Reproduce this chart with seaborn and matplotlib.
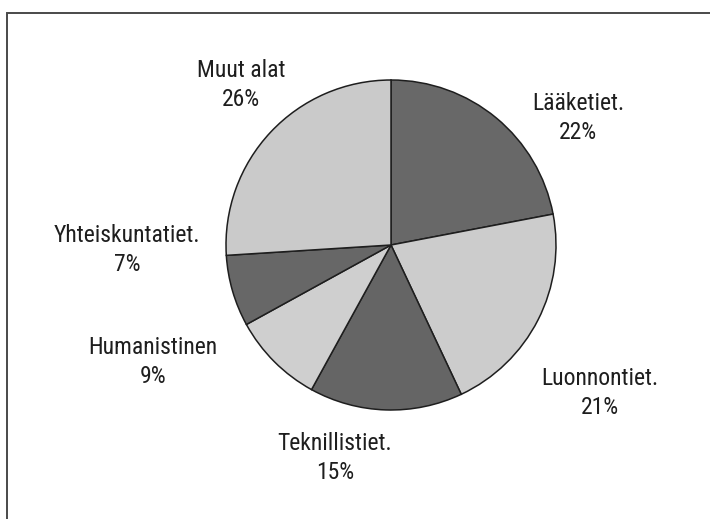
import numpy as np
import pandas as pd
import matplotlib
matplotlib.use("Agg")
import matplotlib.pyplot as plt
from matplotlib import font_manager
from matplotlib.patches import Rectangle
import seaborn as sns

# data (clockwise from 12 o'clock)
fields = ["Lääketiet.", "Luonnontiet.", "Teknillistiet.", "Humanistinen", "Yhteiskuntatiet.", "Muut alat"]
shares = [22, 21, 15, 9, 7, 26]
shades = ["#686868", "#cccccc", "#656565", "#cfcfcf", "#676767", "#cacaca"]

df = pd.DataFrame({"field": fields, "share": shares})

sns.set_style("white")
names = {f.name for f in font_manager.fontManager.ttflist}
narrow = [n for n in ["DejaVu Sans Condensed", "Liberation Sans Narrow", "Roboto Condensed"] if n in names]
if narrow:
    plt.rcParams["font.family"] = [narrow[0], "DejaVu Sans"]
    fsize, lspace = 17, 1.35
else:
    plt.rcParams["font.family"] = ["DejaVu Sans"]
    fsize, lspace = 15.5, 1.47

fig = plt.figure(figsize=(7.1, 5.19), dpi=100)
ax = fig.add_axes([0, 0, 1, 1])

cx, cy, rad = 391, 274, 165
wedges, _ = ax.pie(df["share"], colors=shades, startangle=90, counterclock=False,
                   center=(cx, cy), radius=rad,
                   wedgeprops=dict(edgecolor="#1e1e1e", linewidth=1.1))
ax.set_xlim(0, 710)
ax.set_ylim(0, 519)
ax.set_aspect("equal")
ax.axis("off")

# label placement (pixel-like coordinates, text only)
label_pos = {
    "Lääketiet.": (578, 401),
    "Luonnontiet.": (600, 126),
    "Teknillistiet.": (335, 61),
    "Humanistinen": (153, 157),
    "Yhteiskuntatiet.": (127, 269),
    "Muut alat": (241, 434),
}
for name, val in zip(df["field"], df["share"]):
    x, y = label_pos[name]
    ax.text(x, y, f"{name}\n{val}%", ha="center", va="center", fontsize=fsize,
            color="#1e1e1e", linespacing=lspace, multialignment="center")

# frame (top and left edges visible, cropped on the other sides)
fig.patches.append(Rectangle((7 / 710, -0.05), 1.1, (519 - 13) / 519 + 0.05,
                             transform=fig.transFigure, fill=False,
                             edgecolor="#4a4a4a", linewidth=1.4))

fig.savefig("out.png", dpi=100, facecolor="white")
